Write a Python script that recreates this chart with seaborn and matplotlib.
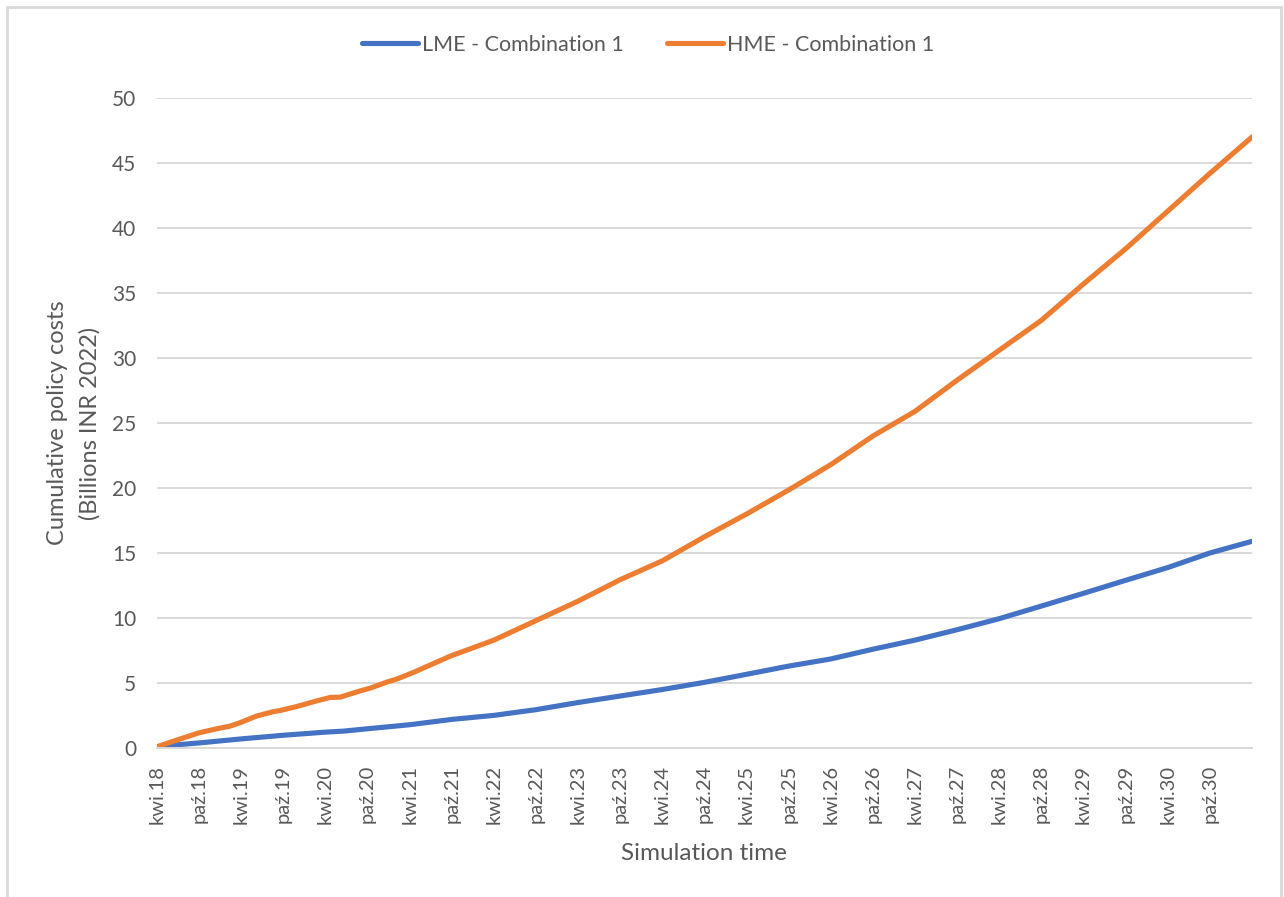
import matplotlib
matplotlib.use("Agg")
import matplotlib.pyplot as plt
from matplotlib.patches import Rectangle
import pandas as pd
import seaborn as sns

# Months elapsed since April 2018, with cumulative costs (billions INR 2022)
lme_months = [0, 1.8, 6, 12, 18, 24, 26.6, 30, 36, 42, 48, 54, 60, 66, 72, 78,
              84, 90, 96, 102, 108, 114, 120, 126, 132, 138, 144, 150, 156]
lme_values = [0.05, 0.2, 0.39, 0.7, 0.98, 1.22, 1.3, 1.48, 1.79, 2.2, 2.51, 2.95,
              3.5, 4.0, 4.5, 5.05, 5.67, 6.3, 6.85, 7.6, 8.3, 9.1, 9.95, 10.92,
              11.9, 12.9, 13.88, 15.0, 15.9]

hme_months = [0, 3.5, 6, 8.7, 10.4, 11.8, 14.2, 16.6, 17.5, 19.9, 22.8, 24.7,
              26.1, 27.5, 29, 30.4, 32.8, 34.2, 36.6, 39.4, 41.8, 48, 54, 60,
              66, 72, 78, 84, 90, 96, 102, 108, 114, 120, 126, 132, 138, 144,
              150, 156]
hme_values = [0.1, 0.73, 1.17, 1.5, 1.68, 1.94, 2.46, 2.8, 2.88, 3.19, 3.63,
              3.89, 3.91, 4.15, 4.4, 4.61, 5.08, 5.31, 5.83, 6.5, 7.07, 8.3,
              9.8, 11.3, 12.95, 14.4, 16.25, 18.0, 19.85, 21.8, 24.0, 25.9,
              28.3, 30.6, 32.9, 35.7, 38.4, 41.3, 44.2, 47.0]

series_names = ["LME - Combination 1", "HME - Combination 1"]
series_colors = ["#4472C4", "#ED7D31"]

# Semi-annual axis labels (Polish month abbreviations)
label_years = list(range(18, 31))
tick_labels = [f"{m}.{y}" for y in label_years for m in ("kwi", "paź")] + [""]
tick_positions = list(range(0, 157, 6))

y_ticks = list(range(0, 51, 5))

df = pd.concat([
    pd.DataFrame({"month": lme_months, "cost": lme_values, "series": series_names[0]}),
    pd.DataFrame({"month": hme_months, "cost": hme_values, "series": series_names[1]}),
], ignore_index=True)

sns.set_theme(style="white")
plt.rcParams["font.family"] = ["Lato", "DejaVu Sans"]
text_color = "#595959"
grid_color = "#D9D9D9"

W, H = 1284, 897
fig = plt.figure(figsize=(W / 100, H / 100), dpi=100)
ax = fig.add_axes([157 / W, 1 - 748 / H, (1252 - 157) / W, (748 - 98) / H])

sns.lineplot(data=df, x="month", y="cost", hue="series", palette=series_colors,
             hue_order=series_names, linewidth=3.7, ax=ax, legend=False,
             estimator=None, sort=True)
for line in ax.get_lines():
    line.set_solid_capstyle("round")
    line.set_solid_joinstyle("round")

ax.set_xlim(0, 156)
ax.set_ylim(0, 50)
ax.set_yticks(y_ticks)
ax.set_yticklabels([str(v) for v in y_ticks], fontsize=15, color=text_color)
ax.set_xticks(tick_positions)
ax.set_xticklabels(tick_labels, rotation=90, fontsize=14.5, color=text_color)
ax.tick_params(axis="y", length=0, pad=15)
ax.tick_params(axis="x", length=6, width=1.3, color=grid_color, pad=6, direction="out")

ax.grid(axis="y", color=grid_color, linewidth=1.4)
ax.grid(axis="x", visible=False)
ax.set_axisbelow(True)
for side in ("left", "right", "top"):
    ax.spines[side].set_visible(False)
ax.spines["bottom"].set_color(grid_color)
ax.spines["bottom"].set_linewidth(1.4)

ax.set_xlabel("")
ax.set_ylabel("")
fig.text(704 / W, 1 - 853 / H, "Simulation time", ha="center", va="center",
         fontsize=17.5, color=text_color)
fig.text(58 / W, 1 - 423 / H, "Cumulative policy costs", ha="center", va="center",
         rotation=90, fontsize=17, color=text_color)
fig.text(90 / W, 1 - 423 / H, "(Billions INR 2022)", ha="center", va="center",
         rotation=90, fontsize=17, color=text_color)

handles = [plt.Line2D([], [], color=c, linewidth=3.7, solid_capstyle="round")
           for c in series_colors]
fig.legend(handles, series_names, loc="center", bbox_to_anchor=(648 / W, 1 - 45 / H),
           ncol=2, frameon=False, fontsize=15.5, handlelength=2.6, handletextpad=0.2,
           columnspacing=2.0, labelcolor=text_color)

# Chart-area border
fig.patches.append(Rectangle((7 / W, -0.01), (1281 - 7) / W, 1 - 7 / H + 0.01,
                             transform=fig.transFigure, fill=False,
                             edgecolor=grid_color, linewidth=2))

fig.savefig("out.png", dpi=100, facecolor="white")
